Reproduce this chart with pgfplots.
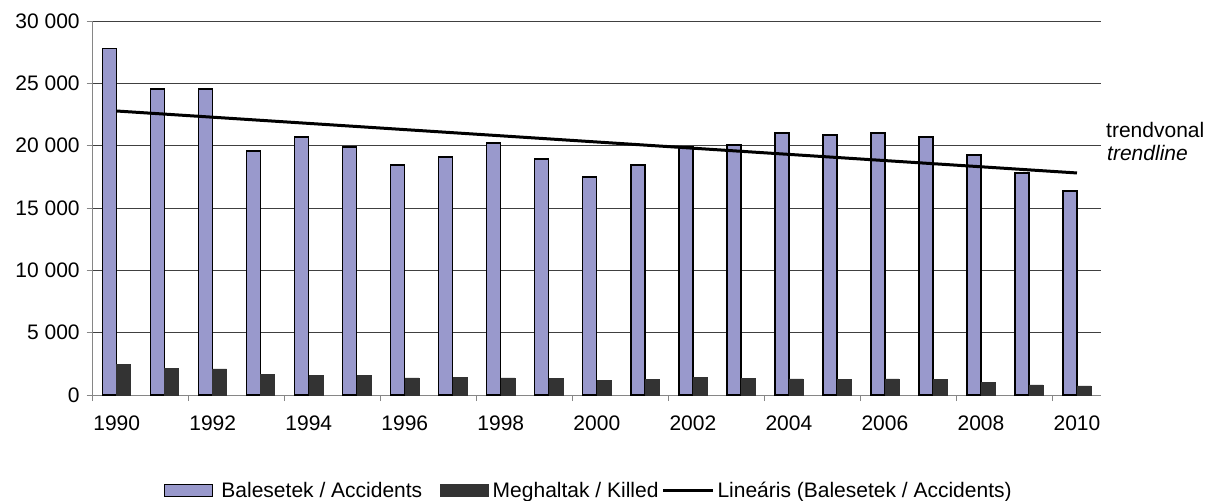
\documentclass[border=0pt]{standalone}
\usepackage{pgfplots}
\pgfplotsset{compat=1.18}
\usepackage{fontspec}
\setmainfont{Liberation Sans}
\definecolor{acc}{HTML}{9999CC}
\definecolor{kil}{HTML}{333333}
\definecolor{axgray}{HTML}{868686}
\definecolor{gridc}{HTML}{404040}
\begin{document}
\begin{tikzpicture}[font=\fontsize{21bp}{25bp}\selectfont]
\path[use as bounding box] (-92.7bp,-106bp) rectangle (1112.3bp,395bp);
\begin{axis}[
  at={(0,0)}, anchor=south west,
  scale only axis, width=1008.3bp, height=374bp,
  xmin=-0.5, xmax=20.5, ymin=0, ymax=30000,
  clip=false,
  scaled y ticks=false,
  axis x line*=bottom, axis y line*=left,
  axis line style={axgray, line width=1bp},
  tick align=outside, major tick length=6bp,
  tick style={axgray, line width=1bp},
  ytick={0,5000,10000,15000,20000,25000,30000},
  yticklabels={0,5 000,10 000,15 000,20 000,25 000,30 000},
  yticklabel style={xshift=-3.5bp},
  xtick={-0.5,1.5,3.5,5.5,7.5,9.5,11.5,13.5,15.5,17.5,19.5},
  xticklabels={},
  extra x ticks={0,2,4,6,8,10,12,14,16,18,20},
  extra x tick labels={1990,1992,1994,1996,1998,2000,2002,2004,2006,2008,2010},
  extra x tick style={major tick length=0pt, grid=none, xticklabel style={yshift=-17bp}},
  ymajorgrids, major grid style={gridc, line width=0.9bp},
  tick label style={font=\fontsize{21bp}{25bp}\selectfont},
  legend columns=3,
  legend style={at={(0.0707,-0.2553)}, anchor=west, draw=none, fill=none,
    inner sep=0pt, nodes={inner sep=0pt}, font=\fontsize{21bp}{25bp}\selectfont},
  legend cell align=left,
]
\addplot[ybar, bar width=14bp, bar shift=-7bp, fill=acc, draw=black, line width=1.3bp,
  legend image code/.code={\draw[fill=acc, draw=black, line width=1.3bp] (0bp,-6bp) rectangle (48bp,6bp); \path (0bp,0bp) (56bp,0bp);}]
coordinates {
(0,27800) (1,24550) (2,24550) (3,19570) (4,20700) (5,19890) (6,18450)
(7,19090) (8,20210) (9,18930) (10,17490) (11,18450) (12,19890) (13,20050)
(14,21020) (15,20860) (16,21020) (17,20700) (18,19250) (19,17810) (20,16360)
};
\addlegendentry{Balesetek / Accidents}
\addplot[ybar, bar width=14bp, bar shift=7bp, fill=kil, draw=kil, line width=0.5bp,
  legend image code/.code={\fill[kil] (18bp,-6bp) rectangle (66bp,6bp); \path (0bp,0bp) (70bp,0bp);}]
coordinates {
(0,2432) (1,2120) (2,2101) (3,1678) (4,1562) (5,1589) (6,1370)
(7,1391) (8,1371) (9,1306) (10,1200) (11,1239) (12,1429) (13,1326)
(14,1296) (15,1278) (16,1303) (17,1232) (18,996) (19,822) (20,740)
};
\addlegendentry{Meghaltak / Killed}
\addplot[sharp plot, black, line width=3bp, no marks,
  legend image code/.code={\draw[black, line width=2.7bp] (3bp,0bp) -- (53bp,0bp); \path (0bp,0bp) (56bp,0bp);}]
coordinates {(0,22780) (20,17810)};
\addlegendentry{Lineáris (Balesetek / Accidents)}
\node[anchor=base west, inner sep=0pt] at (rel axis cs:1.005,0.6898) {trendvonal};
\node[anchor=base west, inner sep=0pt] at (rel axis cs:1.006,0.6257) {\itshape trendline};
\end{axis}
\end{tikzpicture}
\end{document}
